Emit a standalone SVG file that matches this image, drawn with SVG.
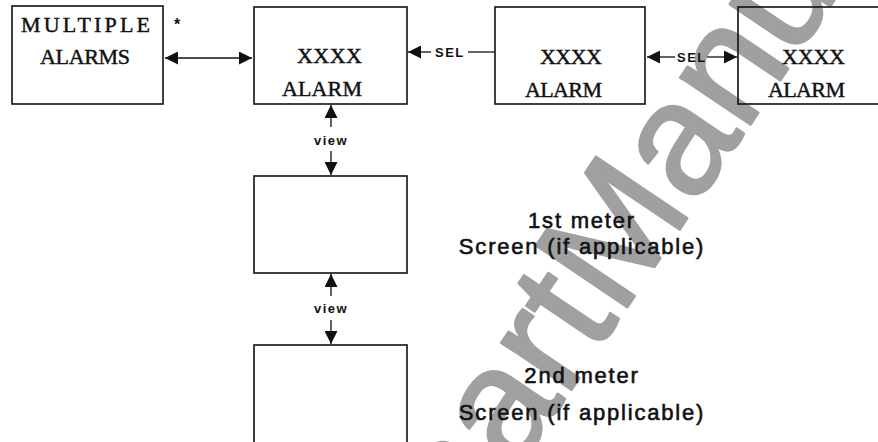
<svg xmlns="http://www.w3.org/2000/svg" width="878" height="442" viewBox="0 0 878 442">
<style>
.box{fill:none;stroke:#111;stroke-width:1.6}
.mono{font-family:"Liberation Serif","Times New Roman",serif;font-size:22px;fill:#111;stroke:#111;stroke-width:0.45}
.lbl{font-family:"Liberation Sans",Arial,sans-serif;font-weight:bold;font-size:13px;fill:#111;letter-spacing:1.5px}
.cap{font-family:"Liberation Sans",Arial,sans-serif;font-size:22px;fill:#111;letter-spacing:1.8px;text-anchor:middle;stroke:#111;stroke-width:0.6}
.con{fill:none;stroke:#111;stroke-width:1.3}
.wm{font-family:"Liberation Sans",Arial,sans-serif;font-size:160px;fill:#a0a0a0;stroke:#a0a0a0;stroke-width:2.5;stroke-linejoin:round}
</style>
<defs>
<marker id="ah" viewBox="0 0 13 13" refX="13" refY="6.5" markerWidth="13" markerHeight="13" markerUnits="userSpaceOnUse" orient="auto">
<path d="M0,0 L13,6.5 L0,13 z" fill="#111"/>
</marker>
<marker id="as" viewBox="0 0 13 13" refX="0" refY="6.5" markerWidth="13" markerHeight="13" markerUnits="userSpaceOnUse" orient="auto">
<path d="M13,0 L0,6.5 L13,13 z" fill="#111"/>
</marker>
</defs>
<rect width="878" height="442" fill="#fff"/>
<text class="wm" transform="translate(794,60) rotate(-56)" x="-738" y="0">SmartManuals</text>
<g id="n-multiple">
<rect class="box" x="12" y="6" width="151" height="98"/>
<text class="mono" x="21" y="32" textLength="129" lengthAdjust="spacing">MULTIPLE</text>
<text class="mono" x="40" y="64" textLength="90" lengthAdjust="spacing">ALARMS</text>
<text x="174" y="30" font-family="Liberation Sans,Arial,sans-serif" font-weight="bold" font-size="16" fill="#111">*</text>
</g>
<g id="n-alarm1">
<rect class="box" x="254" y="7" width="153" height="97"/>
<text class="mono" x="297" y="63" textLength="65" lengthAdjust="spacing">XXXX</text>
<text class="mono" x="282" y="96" textLength="80" lengthAdjust="spacing">ALARM</text>
</g>
<g id="n-alarm2">
<rect class="box" x="495" y="7" width="150" height="97"/>
<text class="mono" x="540" y="64" textLength="62" lengthAdjust="spacing">XXXX</text>
<text class="mono" x="525" y="97" textLength="77" lengthAdjust="spacing">ALARM</text>
</g>
<g id="n-alarm3">
<rect class="box" x="738" y="7" width="150" height="97"/>
<text class="mono" x="782" y="64" textLength="63" lengthAdjust="spacing">XXXX</text>
<text class="mono" x="768" y="97" textLength="77" lengthAdjust="spacing">ALARM</text>
</g>
<g id="n-meter1">
<rect class="box" x="254" y="176" width="153" height="97"/>
</g>
<g id="n-meter2">
<rect class="box" x="254" y="345" width="153" height="100"/>
</g>
<g id="connectors">
<path class="con" d="M165,58 H252" marker-start="url(#as)" marker-end="url(#ah)"/>
<path class="con" d="M495,52 H468"/>
<path class="con" d="M431,52 H408" marker-end="url(#ah)"/>
<text class="lbl" x="435" y="57">SEL</text>
<path class="con" d="M675,57 H647" marker-end="url(#ah)"/>
<path class="con" d="M707,57 H737" marker-end="url(#ah)"/>
<text class="lbl" x="677" y="62">SEL</text>
<path class="con" d="M331,127 V105" marker-end="url(#ah)"/>
<path class="con" d="M331,151 V175" marker-end="url(#ah)"/>
<text class="lbl" x="331" y="145" text-anchor="middle" letter-spacing="1">view</text>
<path class="con" d="M331,296 V274" marker-end="url(#ah)"/>
<path class="con" d="M331,320 V344" marker-end="url(#ah)"/>
<text class="lbl" x="331" y="313" text-anchor="middle" letter-spacing="1">view</text>
</g>
<g id="captions">
<text class="cap" x="582" y="228">1st meter</text>
<text class="cap" x="582" y="254">Screen (if applicable)</text>
<text class="cap" x="582" y="383">2nd meter</text>
<text class="cap" x="582" y="420">Screen (if applicable)</text>
</g>
</svg>
